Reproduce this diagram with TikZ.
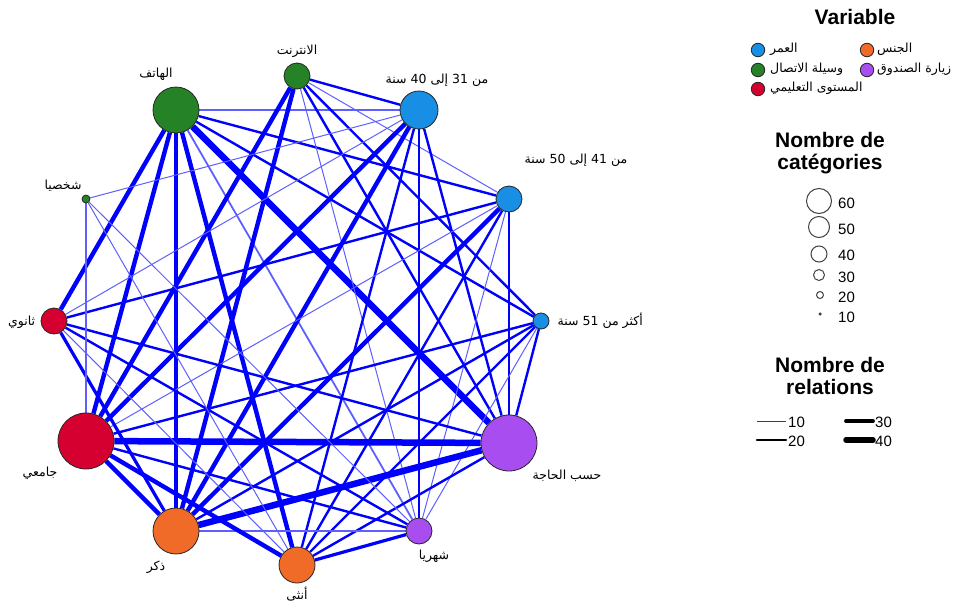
\documentclass[tikz,border=0pt]{standalone}
\usepackage{fontspec}
\setmainfont{Liberation Sans}
\newfontfamily\arabicfont[Script=Arabic]{DejaVu Sans}
\TeXXeTstate=1
\usetikzlibrary{backgrounds}
\definecolor{cage}{RGB}{24,142,228}
\definecolor{csex}{RGB}{240,106,40}
\definecolor{ccon}{RGB}{38,130,38}
\definecolor{cvis}{RGB}{168,78,240}
\definecolor{cedu}{RGB}{214,0,48}
\definecolor{edgeb}{RGB}{0,0,255}
\definecolor{edgel}{RGB}{95,95,255}
\newcommand{\artext}[1]{{\arabicfont\beginR #1\endR}}
\newcommand{\lft}[1]{\beginL #1\endL{}}
\tikzset{
  vert/.style={circle, draw=black!85, line width=0.8pt, inner sep=0pt, minimum size=#1},
  lab/.style={font=\arabicfont\fontsize{12.5}{14}\selectfont, inner sep=0pt},
  ea/.style={line width=1pt, draw=edgel},
  eb/.style={line width=1.8pt, draw=edgel},
  ec/.style={line width=2.4pt, draw=edgeb},
  ed/.style={line width=3.2pt, draw=edgeb},
  ee/.style={line width=4.4pt, draw=edgeb},
  ef/.style={line width=6.5pt, draw=edgeb},
  ttl/.style={font=\bfseries\fontsize{21}{22}\selectfont, align=center, inner sep=0pt},
  num/.style={font=\fontsize{15}{17}\selectfont, inner sep=0pt, anchor=west},
  lgc/.style={circle, draw=black!85, line width=0.8pt, inner sep=0pt, minimum size=13.5pt},
  szc/.style={circle, draw=black!75, line width=1pt, inner sep=0pt, minimum size=#1},
}
\begin{document}
\begin{tikzpicture}[x=1pt,y=-1pt]
\useasboundingbox (0,0) rectangle (959,608);
% graph nodes
\node[vert=26, fill=ccon] (I) at (297,76) {};
\node[vert=38, fill=cage] (A1) at (419,110) {};
\node[vert=26, fill=cage] (A2) at (509,199) {};
\node[vert=16, fill=cage] (A3) at (541,321) {};
\node[vert=56, fill=cvis] (H) at (509,443) {};
\node[vert=26, fill=cvis] (M) at (419,531) {};
\node[vert=36, fill=csex] (F) at (297,565) {};
\node[vert=46, fill=csex] (Mm) at (176,531) {};
\node[vert=56, fill=cedu] (U) at (86,441) {};
\node[vert=26, fill=cedu] (S) at (54,321) {};
\node[vert=8, fill=ccon] (P) at (86,199) {};
\node[vert=46, fill=ccon] (T) at (176,110) {};
% edges
\begin{scope}[on background layer]
\draw[eb] (T) -- (A1);
\draw[ec] (T) -- (A2);
\draw[ec] (T) -- (A3);
\draw[ef] (T) -- (H);
\draw[eb] (T) -- (M);
\draw[ee] (T) -- (F);
\draw[ed] (T) -- (Mm);
\draw[ee] (T) -- (U);
\draw[ee] (T) -- (S);
\draw[ec] (I) -- (A1);
\draw[ea] (I) -- (A2);
\draw[ec] (I) -- (A3);
\draw[ec] (I) -- (H);
\draw[ea] (I) -- (M);
\draw[ee] (I) -- (Mm);
\draw[ee] (I) -- (U);
\draw[ec] (A1) -- (H);
\draw[ec] (A1) -- (M);
\draw[ec] (A1) -- (F);
\draw[ee] (A1) -- (Mm);
\draw[ee] (A1) -- (U);
\draw[ea] (A1) -- (S);
\draw[ea] (A1) -- (P);
\draw[ec] (A2) -- (H);
\draw[ea] (A2) -- (M);
\draw[ec] (A2) -- (F);
\draw[ee] (A2) -- (Mm);
\draw[ea] (A2) -- (U);
\draw[ec] (A2) -- (S);
\draw[ec] (A3) -- (H);
\draw[ea] (A3) -- (M);
\draw[ec] (A3) -- (F);
\draw[ec] (A3) -- (Mm);
\draw[ec] (A3) -- (U);
\draw[ef] (H) -- (U);
\draw[ef] (H) -- (Mm);
\draw[ec] (H) -- (F);
\draw[ec] (H) -- (S);
\draw[ed] (M) -- (F);
\draw[eb] (M) -- (Mm);
\draw[ec] (M) -- (U);
\draw[ec] (M) -- (S);
\draw[ea] (M) -- (P);
\draw[ee] (F) -- (U);
\draw[ea] (F) -- (S);
\draw[ea] (F) -- (P);
\draw[ee] (Mm) -- (U);
\draw[ed] (Mm) -- (S);
\draw[eb] (U) -- (P);
\end{scope}
% node labels
\node[lab] (lT) at (156,74) {\artext{الهاتف}};
\node[lab] (lI) at (297,51) {\artext{الانترنت}};
\node[lab] (lA1) at (437,80) {\artext{من \lft{31} إلى \lft{40} سنة}};
\node[lab] (lA2) at (576,160) {\artext{من \lft{41} إلى \lft{50} سنة}};
\begin{scope}[on background layer]
\node[lab, anchor=east] (lA3) at (643,321) {\artext{أكثر من \lft{51} سنة}};
\node[lab, anchor=west] (lS) at (8,322) {\artext{ثانوي}};
\end{scope}
\node[lab] (lH) at (567,476) {\artext{حسب الحاجة}};
\node[lab] (lM) at (434,556) {\artext{شهريا}};
\node[lab] (lF) at (297,594) {\artext{أنثى}};
\node[lab] (lMm) at (156,567) {\artext{ذكر}};
\node[lab] (lU) at (40,473) {\artext{جامعي}};
\node[lab] (lP) at (63,186) {\artext{شخصيا}};
% legend: variable
\node[ttl] (tvar) at (855,17) {Variable};
\node[lgc, fill=cage] (g1) at (758,50) {};
\node[lab, anchor=west] (g1t) at (770,49) {\artext{العمر}};
\node[lgc, fill=csex] (g2) at (867,50) {};
\node[lab, anchor=west] (g2t) at (877,49) {\artext{الجنس}};
\node[lgc, fill=ccon] (g3) at (758,70) {};
\node[lab, anchor=west] (g3t) at (770,69) {\artext{وسيلة الاتصال}};
\node[lgc, fill=cvis] (g4) at (867,70) {};
\node[lab, anchor=west] (g4t) at (877,69) {\artext{زيارة الصندوق}};
\node[lgc, fill=cedu] (g5) at (758,89) {};
\node[lab, anchor=west] (g5t) at (770,88) {\artext{المستوى التعليمي}};
% legend: categories
\node[ttl] (tcat) at (830,153) {Nombre de\\catégories};
\node[szc=25] (s60) at (819,201) {};
\node[num] (n60) at (838,203) {60};
\node[szc=21] (s50) at (819,227) {};
\node[num] (n50) at (838,229) {50};
\node[szc=16] (s40) at (819,254) {};
\node[num] (n40) at (838,255) {40};
\node[szc=11] (s30) at (819,275) {};
\node[num] (n30) at (838,277) {30};
\node[szc=7] (s20) at (820,295) {};
\node[num] (n20) at (838,297) {20};
\node[circle, fill=black!75, inner sep=0pt, minimum size=3.5pt] (s10) at (820,314) {};
\node[num] (n10) at (838,317) {10};
% legend: relations
\node[ttl] (trel) at (830,376) {Nombre de\\relations};
\coordinate (r1a) at (757,421); \coordinate (r1b) at (786,421);
\coordinate (r2a) at (757,440); \coordinate (r2b) at (786,440);
\coordinate (r3a) at (846,421); \coordinate (r3b) at (873,421);
\coordinate (r4a) at (846,440); \coordinate (r4b) at (873,440);
\draw[line width=1pt, black!75] (r1a) -- (r1b);
\draw[line width=2.5pt, black, line cap=round] (r2a) -- (r2b);
\draw[line width=3.8pt, black, line cap=round] (r3a) -- (r3b);
\draw[line width=5.5pt, black, line cap=round] (r4a) -- (r4b);
\node[num] (m10) at (788,422) {10};
\node[num] (m20) at (788,441) {20};
\node[num] (m30) at (875,422) {30};
\node[num] (m40) at (875,441) {40};
\end{tikzpicture}
\end{document}
